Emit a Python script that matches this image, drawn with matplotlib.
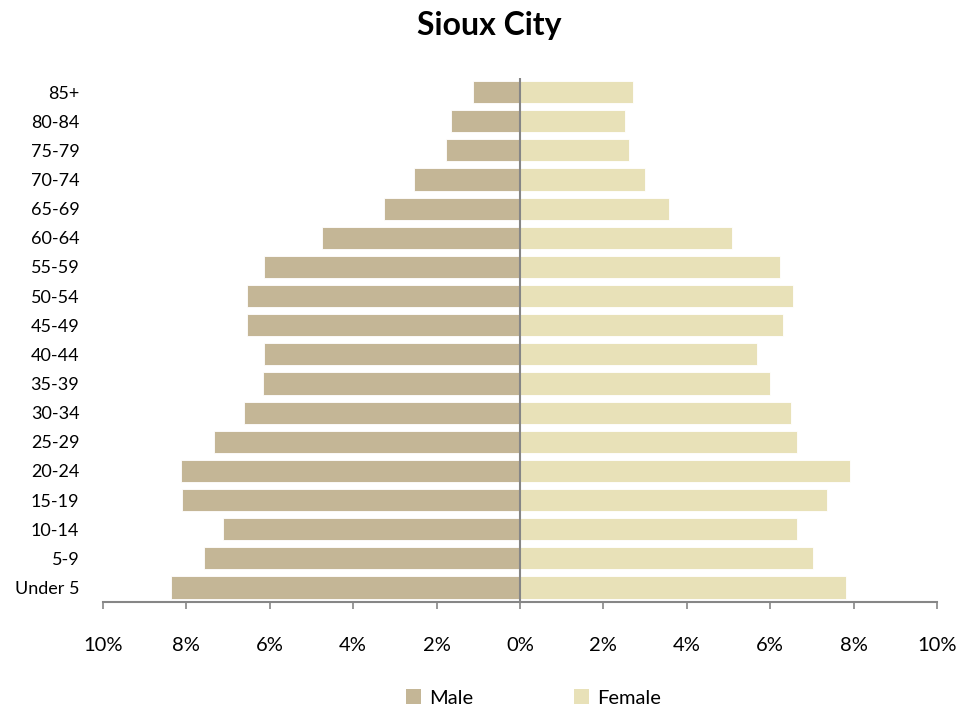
import matplotlib
matplotlib.use("Agg")
import matplotlib.pyplot as plt
from matplotlib.ticker import FuncFormatter
from matplotlib.patches import Patch

categories = ["Under 5", "5-9", "10-14", "15-19", "20-24", "25-29", "30-34", "35-39",
              "40-44", "45-49", "50-54", "55-59", "60-64", "65-69", "70-74", "75-79",
              "80-84", "85+"]
male = [8.36, 7.57, 7.12, 8.10, 8.13, 7.33, 6.61, 6.17, 6.13, 6.54, 6.54, 6.13,
        4.75, 3.27, 2.54, 1.78, 1.65, 1.13]
female = [7.81, 7.02, 6.64, 7.36, 7.91, 6.64, 6.50, 5.99, 5.68, 6.30, 6.54, 6.23,
          5.09, 3.57, 2.99, 2.61, 2.51, 2.71]
xticks = [-10, -8, -6, -4, -2, 0, 2, 4, 6, 8, 10]

male_color = "#C4B696"
female_color = "#E8E1B8"
axis_gray = "#868686"

plt.rcParams['font.family'] = ['Lato', 'DejaVu Sans']

fig = plt.figure(figsize=(9.79, 7.13), dpi=100)
ax = fig.add_axes([103/979, 1 - 602/713, (937-103)/979, (602-77.5)/713])

y = list(range(len(categories)))
ax.barh(y, [-m for m in male], height=0.76, color=male_color, edgecolor="white", linewidth=0.6, label="Male")
ax.barh(y, female, height=0.76, color=female_color, edgecolor="white", linewidth=0.6, label="Female")

ax.set_xlim(-10, 10)
ax.set_ylim(-0.5, len(categories) - 0.5)
ax.set_xticks(xticks)
ax.xaxis.set_major_formatter(FuncFormatter(lambda v, p: f"{abs(int(round(v)))}%"))
ax.set_yticks(y)
ax.set_yticklabels(categories)

for s in ["top", "right", "left"]:
    ax.spines[s].set_visible(False)
ax.spines["bottom"].set_color(axis_gray)
ax.spines["bottom"].set_linewidth(1.5)
ax.axvline(0, color=axis_gray, linewidth=1.5, zorder=3)

ax.tick_params(axis="x", direction="out", length=5, width=1.2, color=axis_gray,
               labelsize=14.5, pad=20, labelcolor="black")
ax.tick_params(axis="y", length=0, labelsize=13, pad=17, labelcolor="black")

fig.suptitle("Sioux City", fontsize=23, fontweight="bold", y=1 - 26/713, va="center")

handles = [Patch(facecolor=male_color, edgecolor="none", label="Male"),
           Patch(facecolor=female_color, edgecolor="none", label="Female")]
fig.legend(handles=handles, loc="center", bbox_to_anchor=(0.545, 1 - 698/713), ncol=2,
           frameon=False, fontsize=14.5, handlelength=0.75, handleheight=0.75,
           columnspacing=5.0, handletextpad=0.4)

fig.savefig("out.png", dpi=100)
